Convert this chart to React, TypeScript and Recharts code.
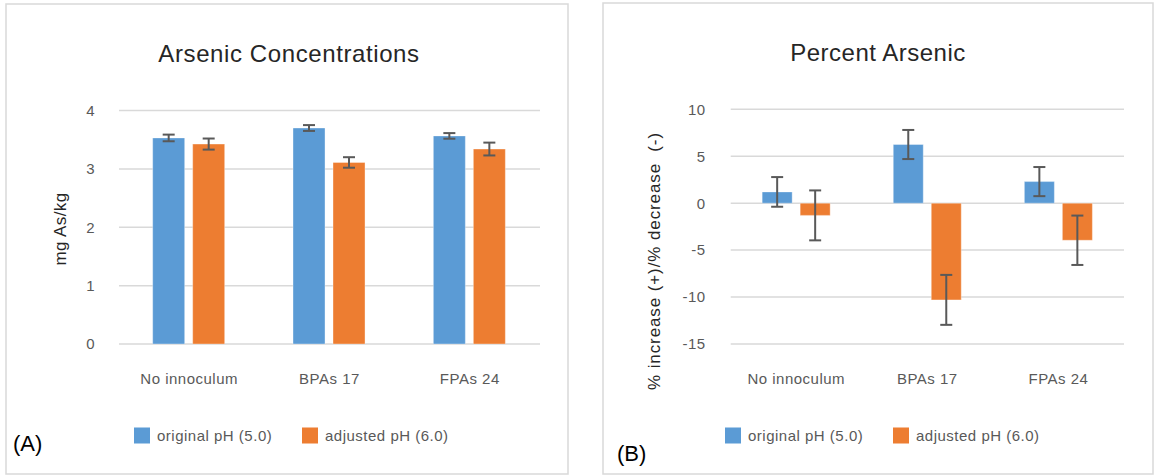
import React from 'react';
import { BarChart, Bar, XAxis, YAxis, CartesianGrid, ErrorBar } from 'recharts';

const categories = ['No innoculum', 'BPAs 17', 'FPAs 24'];
const seriesNames = ['original pH (5.0)', 'adjusted pH (6.0)'];
const seriesColors = ['#5b9bd5', '#ed7d31'];

const concOriginal = [3.53, 3.7, 3.565];
const concOriginalErr = [0.057, 0.05, 0.048];
const concAdjusted = [3.425, 3.11, 3.34];
const concAdjustedErr = [0.095, 0.09, 0.11];
const concTicks = [0, 1, 2, 3, 4];

const pctOriginal = [1.2, 6.25, 2.3];
const pctOriginalErr = [1.58, 1.55, 1.55];
const pctAdjusted = [-1.3, -10.3, -3.95];
const pctAdjustedErr = [2.66, 2.66, 2.63];
const pctTicks = [-15, -10, -5, 0, 5, 10];

const FONT = '"Liberation Sans", Arial, sans-serif';
const GRAY = '#595959';

function build(a: number[], ae: number[], b: number[], be: number[]) {
  return categories.map((c, i) => ({ name: c, a: a[i], ae: ae[i], b: b[i], be: be[i] }));
}

const concData = build(concOriginal, concOriginalErr, concAdjusted, concAdjustedErr);
const pctData = build(pctOriginal, pctOriginalErr, pctAdjusted, pctAdjustedErr);

type PanelProps = {
  data: any[];
  left: number;
  width: number;
  margin: { top: number; left: number; right: number; bottom: number };
  ticks: number[];
  tickMargin: number;
};

function Panel({ data, left, width, margin, ticks, tickMargin }: PanelProps) {
  const tickStyle = { fill: GRAY, fontSize: 15, fontFamily: FONT, letterSpacing: 0.5 };
  return (
    <div style={{ position: 'absolute', left, top: 0 }}>
      <BarChart width={width} height={475} data={data} margin={margin} barCategoryGap="24%" barGap={8}>
        <CartesianGrid vertical={false} stroke="#d9d9d9" strokeWidth={1.5} />
        <XAxis
          dataKey="name"
          axisLine={false}
          tickLine={false}
          height={40}
          tickMargin={23}
          tick={tickStyle}
          interval={0}
        />
        <YAxis
          width={60}
          domain={[ticks[0], ticks[ticks.length - 1]]}
          ticks={ticks}
          axisLine={false}
          tickLine={false}
          tickMargin={tickMargin}
          tick={tickStyle}
          allowDataOverflow
        />
        {['a', 'b'].map((k, i) => (
          <Bar
            key={k}
            dataKey={k}
            name={seriesNames[i]}
            fill={seriesColors[i]}
            stroke="#ffffff"
            strokeOpacity={0.35}
            strokeWidth={1}
            isAnimationActive={false}
          >
            <ErrorBar dataKey={k + 'e'} width={6} stroke="#595959" strokeWidth={2} direction="y" />
          </Bar>
        ))}
      </BarChart>
    </div>
  );
}

function Legend({ x, y }: { x: number; y: number }) {
  // squares 16px; text starts 7px after square; next square 29px after text
  const textW = [116, 126];
  let cx = x;
  const items: React.ReactNode[] = [];
  seriesNames.forEach((n, i) => {
    items.push(<rect key={'r' + i} x={cx} y={y} width={16} height={16} fill={seriesColors[i]} />);
    items.push(
      <text key={'t' + i} x={cx + 23} y={y + 13.2} fontSize={15} fill={GRAY} fontFamily={FONT} letterSpacing={0.5}>
        {n}
      </text>
    );
    cx += 23 + textW[i] + 29;
  });
  return <g>{items}</g>;
}

export default function App() {
  return (
    <div style={{ position: 'fixed', left: 0, top: 0, width: 1156, height: 475, background: '#fff', overflow: 'hidden' }}>
      <Panel
        data={concData}
        left={0}
        width={580}
        margin={{ top: 110.5, left: 59, right: 40, bottom: 91 }}
        ticks={concTicks}
        tickMargin={18}
      />
      <Panel
        data={pctData}
        left={590}
        width={566}
        margin={{ top: 109.3, left: 80.7, right: 32, bottom: 91 }}
        ticks={pctTicks}
        tickMargin={19}
      />
      <svg width={1156} height={475} style={{ position: 'absolute', left: 0, top: 0, pointerEvents: 'none' }}>
        <rect x={6} y={4} width={562} height={470} fill="none" stroke="#d9d9d9" strokeWidth={1.5} />
        <rect x={603} y={3} width={550} height={471} fill="none" stroke="#d9d9d9" strokeWidth={1.5} />
        <text x={289} y={61.5} textAnchor="middle" fontSize={24} fill="#262626" fontFamily={FONT} letterSpacing={0.6}>
          Arsenic Concentrations
        </text>
        <text x={878} y={61} textAnchor="middle" fontSize={24} fill="#262626" fontFamily={FONT} letterSpacing={0.5}>
          Percent Arsenic
        </text>
        <text
          transform="translate(66,229) rotate(-90)"
          textAnchor="middle"
          fontSize={17}
          fill="#262626"
          fontFamily={FONT}
          letterSpacing={0.4}
        >
          mg As/kg
        </text>
        <text
          transform="translate(660,261) rotate(-90)"
          textAnchor="middle"
          fontSize={17}
          fill="#262626"
          fontFamily={FONT}
          letterSpacing={0.9}
          style={{ whiteSpace: 'pre' }}
        >
          {'% increase (+)/% decrease  (-)'}
        </text>
        <Legend x={134} y={427.5} />
        <Legend x={725} y={427.5} />
        <text x={13} y={451} fontSize={22} fill="#000" fontFamily={FONT}>
          (A)
        </text>
        <text x={617} y={461} fontSize={22} fill="#000" fontFamily={FONT}>
          (B)
        </text>
      </svg>
    </div>
  );
}
